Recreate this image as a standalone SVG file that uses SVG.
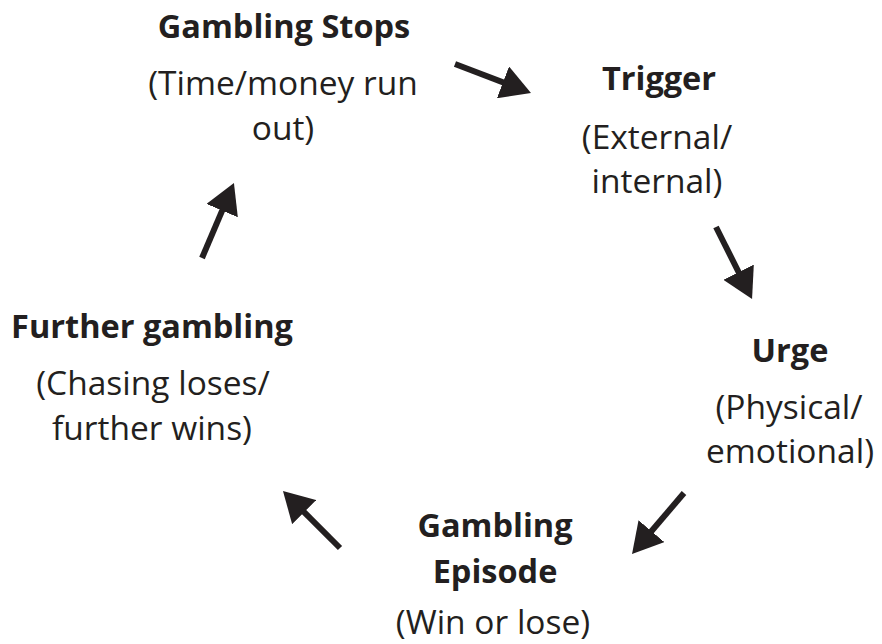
<svg xmlns="http://www.w3.org/2000/svg" width="882" height="644" viewBox="0 0 882 644">
<style>
.t{font-family:"Open Sans","Noto Sans",sans-serif;fill:#231f20;text-anchor:middle}
.b{font-weight:bold;font-size:32.5px}
.r{font-size:33.5px}
.c{stroke:#231f20;stroke-width:6;fill:none;marker-end:url(#ah)}
</style>
<defs>
<marker id="ah" markerUnits="userSpaceOnUse" markerWidth="30" markerHeight="34" refX="10" refY="17" orient="auto">
<path d="M0,0 L30,17 L0,34 Z" fill="#231f20"/>
</marker>
</defs>
<rect width="882" height="644" fill="#fff"/>
<g id="connectors">
<line class="c" x1="455" y1="64" x2="512.3" y2="85.9"/>
<line class="c" x1="716" y1="227" x2="743.1" y2="281.1"/>
<line class="c" x1="684" y1="493" x2="645" y2="538.8"/>
<line class="c" x1="340" y1="548" x2="297.1" y2="505.1"/>
<line class="c" x1="202" y1="258" x2="226.1" y2="201.4"/>
</g>
<g id="stops">
<text class="t b" x="284" y="38">Gambling Stops</text>
<text class="t r" x="283" y="95">(Time/money run</text>
<text class="t r" x="283" y="140">out)</text>
</g>
<g id="trigger">
<text class="t b" x="659" y="90">Trigger</text>
<text class="t r" x="657" y="149">(External/</text>
<text class="t r" x="657" y="193">internal)</text>
</g>
<g id="urge">
<text class="t b" x="790" y="362">Urge</text>
<text class="t r" x="789" y="419">(Physical/</text>
<text class="t r" x="790" y="463">emotional)</text>
</g>
<g id="episode">
<text class="t b" x="495" y="537">Gambling</text>
<text class="t b" x="495" y="583">Episode</text>
<text class="t r" x="493" y="634">(Win or lose)</text>
</g>
<g id="further">
<text class="t b" x="152" y="338">Further gambling</text>
<text class="t r" x="153" y="395">(Chasing loses/</text>
<text class="t r" x="152" y="440">further wins)</text>
</g>
</svg>
